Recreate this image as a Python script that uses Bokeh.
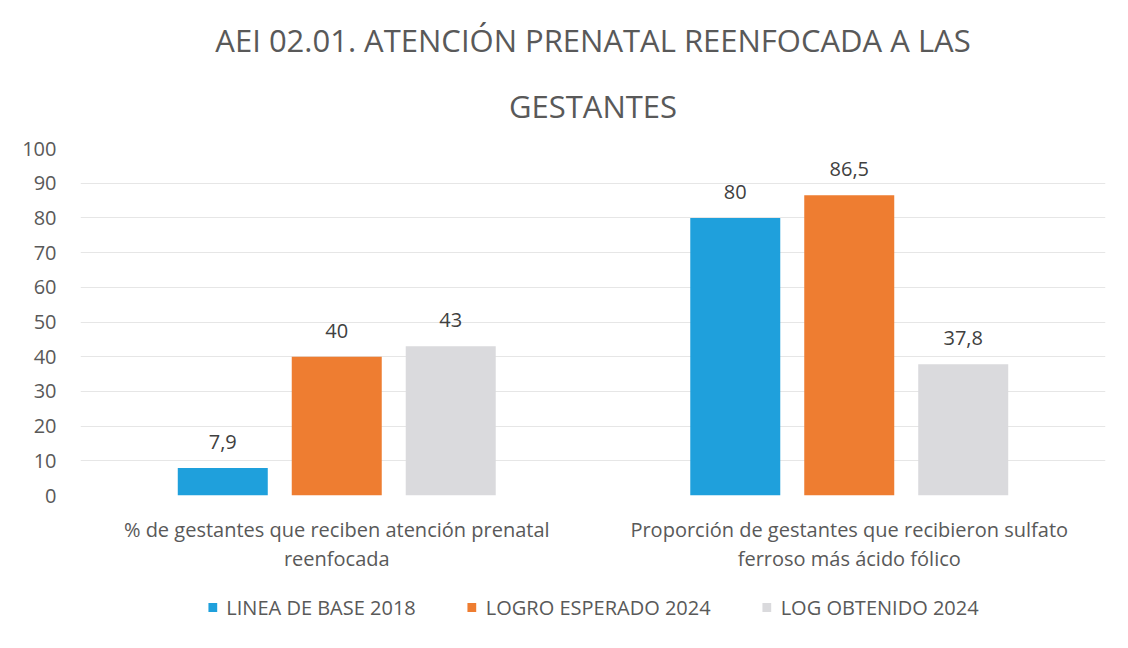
from bokeh.plotting import figure
from bokeh.models import ColumnDataSource, Legend, LegendItem, FactorRange, Title
from bokeh.layouts import column
from bokeh.transform import dodge
from bokeh.core.properties import value
from bokeh.embed import file_html
from bokeh.resources import INLINE

categories = ["% de gestantes que reciben atención prenatal\nreenfocada",
              "Proporción de gestantes que recibieron sulfato\nferroso más ácido fólico"]
linea_base_2018 = [7.9, 80]
logro_esperado_2024 = [40, 86.5]
log_obtenido_2024 = [43, 37.8]
series_names = ["LINEA DE BASE 2018", "LOGRO ESPERADO 2024", "LOG OBTENIDO 2024"]
title_lines = ["AEI 02.01. ATENCIÓN PRENATAL REENFOCADA A LAS", "GESTANTES"]
y_ticks = [0, 10, 20, 30, 40, 50, 60, 70, 80, 90, 100]

def fmt(v):
    return ("%g" % v).replace(".", ",")

source = ColumnDataSource(dict(
    cat=categories,
    a=linea_base_2018, b=logro_esperado_2024, c=log_obtenido_2024,
    la=[fmt(v) for v in linea_base_2018],
    lb=[fmt(v) for v in logro_esperado_2024],
    lc=[fmt(v) for v in log_obtenido_2024],
))

FONT = "Open Sans"
TXT = "#595959"
p = figure(width=1112, height=578, x_range=FactorRange(*categories), y_range=(0, 100),
           output_backend="svg", toolbar_location=None, title=None,
           min_border_left=80, min_border_right=7, min_border_top=148, min_border_bottom=83)

for i, line in enumerate(reversed(title_lines)):
    t = Title(text=line, align="center", text_font=FONT, text_font_size="31px",
              text_font_style="normal", text_color=TXT,
              standoff=(44 if i == 0 else 0))
    p.add_layout(t, "above")

colors = ["#1fa0dc", "#ee7d31", "#dadadd"]
offs = [-0.2224, 0.0, 0.2224]
keys = ["a", "b", "c"]
lkeys = ["la", "lb", "lc"]
for k, lk, col, off in zip(keys, lkeys, colors, offs):
    p.vbar(x=dodge("cat", off, range=p.x_range), top=k, width=0.1756, source=source,
           fill_color=col, line_color=None)
    p.text(x=dodge("cat", off, range=p.x_range), y=k, text=lk, source=source,
           text_align="center", text_baseline="middle", y_offset=-26,
           text_font=value(FONT), text_font_size="20px", text_color="#404040")

p.yaxis.ticker = y_ticks
p.yaxis.major_label_text_font = FONT
p.yaxis.major_label_text_font_size = "20px"
p.yaxis.major_label_text_color = TXT
p.yaxis.major_label_standoff = 18
p.xaxis.major_label_text_font = FONT
p.xaxis.major_label_text_font_size = "20px"
p.xaxis.major_label_text_color = TXT
p.xaxis.major_label_text_line_height = 1.1
p.xaxis.major_label_standoff = 14
p.axis.axis_line_color = None
p.axis.major_tick_line_color = None
p.axis.minor_tick_line_color = None
p.xgrid.grid_line_color = None
p.ygrid.grid_line_color = "#e6e6e6"
p.outline_line_color = None
p.x_range.range_padding = 0.0

# legend row: zero-width swatch renderers on the same data, outside the visible y range
lg = figure(width=1112, height=58, x_range=FactorRange(*categories), y_range=(-200, -100),
            output_backend="svg", toolbar_location=None,
            min_border_left=20, min_border_right=0, min_border_top=0, min_border_bottom=0)
lg.axis.visible = False
lg.grid.visible = False
lg.outline_line_color = None
rs = []
for k, col in zip(keys, colors):
    rs.append(lg.vbar(x="cat", top=k, width=0, source=source, fill_color=col, line_color=None))
legend = Legend(items=[LegendItem(label=n, renderers=[r]) for n, r in zip(series_names, rs)],
                orientation="horizontal", location="center")
legend.label_text_font = FONT
legend.label_text_font_size = "20px"
legend.label_text_color = TXT
legend.glyph_width = 11
legend.glyph_height = 11
legend.spacing = 50
legend.label_standoff = 9
legend.border_line_color = None
legend.background_fill_alpha = 0
lg.add_layout(legend, "center")

page = column(p, lg, spacing=0)
open("out.html", "w").write(file_html(page, INLINE))
